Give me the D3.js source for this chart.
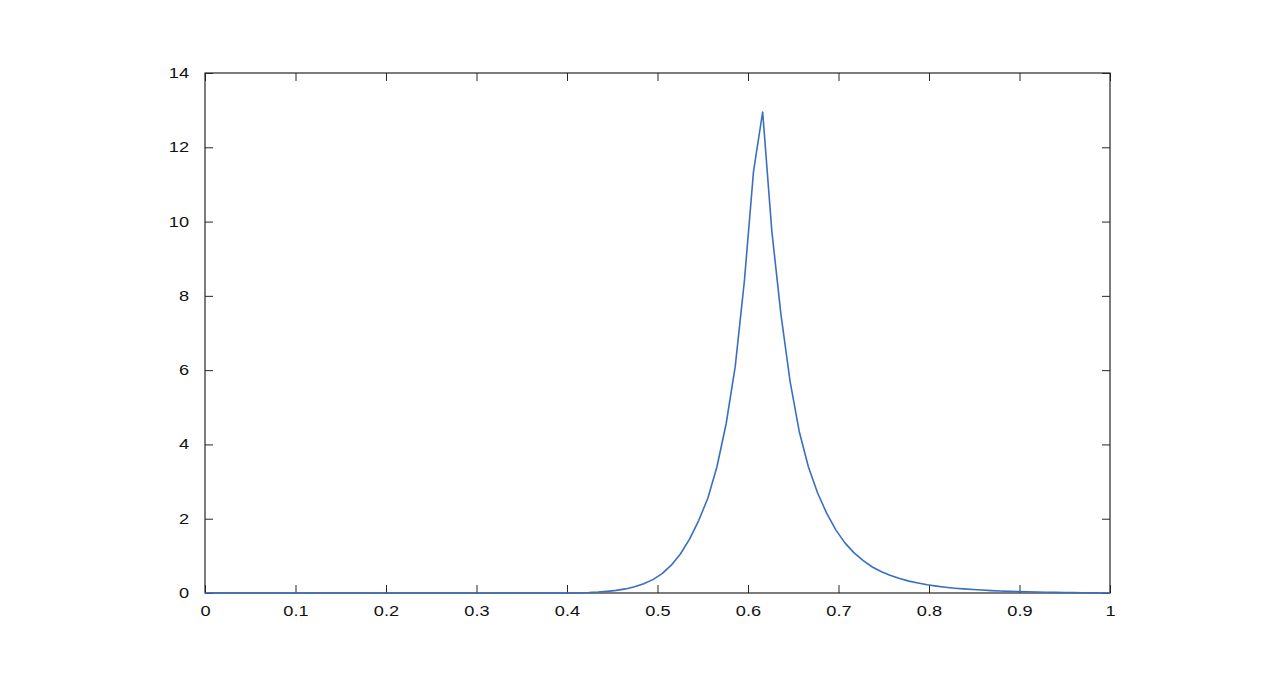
<!DOCTYPE html>
<html>
<head>
<meta charset="utf-8">
<script src="https://cdn.jsdelivr.net/npm/d3@7"></script>
<style>
  body { margin: 0; background: #fff; }
  .tick text { font-family: "Liberation Sans", Arial, sans-serif; font-size: 14px; fill: #111; }
</style>
</head>
<body>
<div id="chart"></div>
<script>
// sample positions along x (flat zero region left out, only the ends kept)
var xs = [0, 0.3939, 0.4040, 0.4141, 0.4242, 0.4343, 0.4444, 0.4545, 0.4646, 0.4747, 0.4848,
  0.4949, 0.5051, 0.5152, 0.5253, 0.5354, 0.5455, 0.5556, 0.5657, 0.5758, 0.5859,
  0.5960, 0.6061, 0.6162, 0.6263, 0.6364, 0.6465, 0.6566, 0.6667, 0.6768, 0.6869,
  0.6970, 0.7071, 0.7172, 0.7273, 0.7374, 0.7475, 0.7576, 0.7677, 0.7778, 0.7879,
  0.7980, 0.8081, 0.8182, 0.8283, 0.8384, 0.8485, 0.8586, 0.8687, 0.8788, 0.8889,
  0.8990, 0.9091, 0.9192, 0.9293, 0.9394, 0.9495, 0.9596, 0.9697, 0.9798, 0.9899, 1];

// curve values
var ys = [0, 0, 0.002, 0.005, 0.012, 0.025, 0.045, 0.07, 0.11, 0.17, 0.25,
  0.36, 0.52, 0.75, 1.05, 1.45, 1.95, 2.55, 3.4, 4.55, 6.1,
  8.4, 11.35, 12.95, 9.75, 7.5, 5.7, 4.35, 3.4, 2.7, 2.15,
  1.7, 1.35, 1.08, 0.87, 0.7, 0.57, 0.47, 0.39, 0.32, 0.27,
  0.22, 0.185, 0.155, 0.13, 0.11, 0.095, 0.08, 0.065, 0.055, 0.045,
  0.038, 0.032, 0.026, 0.021, 0.017, 0.013, 0.01, 0.007, 0.004, 0.002, 0];

var xTicks = [0, 0.1, 0.2, 0.3, 0.4, 0.5, 0.6, 0.7, 0.8, 0.9, 1];
var yTicks = [0, 2, 4, 6, 8, 10, 12, 14];

var width = 1275, height = 694;
var margin = {top: 73, right: 165, bottom: 101, left: 205};
var w = width - margin.left - margin.right,
    h = height - margin.top - margin.bottom;

var svg = d3.select("#chart").append("svg")
    .attr("width", width)
    .attr("height", height);

var g = svg.append("g")
    .attr("transform", "translate(" + margin.left + "," + margin.top + ")");

var x = d3.scaleLinear().domain([0, 1]).range([0, w]);
var y = d3.scaleLinear().domain([0, 14]).range([h, 0]);

var tickLen = 8;
var stretch = 1.3; // labels in the picture are drawn wide
var fmt = function(d) { return String(d); };

// box axes, ticks pointing in
function styleAxis(sel) {
  sel.select(".domain").remove();
  sel.selectAll(".tick line").attr("stroke", "#262626");
}

var xb = g.append("g").attr("transform", "translate(0," + h + ")")
  .call(d3.axisBottom(x).tickValues(xTicks).tickFormat(fmt).tickSizeInner(-tickLen).tickPadding(tickLen + 2));
styleAxis(xb);
xb.selectAll(".tick text").attr("dy", "0.95em")
  .attr("transform", "scale(" + stretch + ",1)");

var xt = g.append("g")
  .call(d3.axisTop(x).tickValues(xTicks).tickFormat("").tickSizeInner(-tickLen));
styleAxis(xt);

var yl = g.append("g")
  .call(d3.axisLeft(y).tickValues(yTicks).tickFormat(fmt).tickSizeInner(-tickLen).tickPadding(tickLen + 8));
styleAxis(yl);
yl.selectAll(".tick text").attr("transform", "scale(" + stretch + ",1)")
  .attr("x", -(tickLen + 8) / stretch);

var yr = g.append("g").attr("transform", "translate(" + w + ",0)")
  .call(d3.axisRight(y).tickValues(yTicks).tickFormat("").tickSizeInner(-tickLen));
styleAxis(yr);

g.append("rect")
  .attr("x", 0).attr("y", 0)
  .attr("width", w).attr("height", h)
  .attr("fill", "none")
  .attr("stroke", "#262626")
  .attr("stroke-width", 1.2);

var line = d3.line()
  .x(function(d, i) { return x(xs[i]); })
  .y(function(d) { return y(d); });

g.append("path")
  .datum(ys)
  .attr("fill", "none")
  .attr("stroke", "#3a6fbf")
  .attr("stroke-width", 1.6)
  .attr("stroke-linejoin", "round")
  .attr("d", line);
</script>
</body>
</html>
